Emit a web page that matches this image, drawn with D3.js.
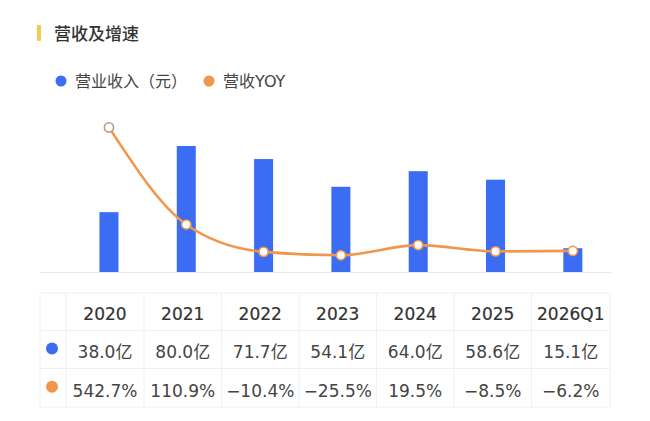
<!DOCTYPE html>
<html><head><meta charset="utf-8">
<script src="https://cdn.jsdelivr.net/npm/d3@7/dist/d3.min.js"></script>
<style>
html,body{margin:0;padding:0;background:#fff;}
svg{display:block;font-family:"DejaVu Sans","Noto Sans CJK SC",sans-serif;}
</style></head>
<body><svg id="c" width="650" height="421"></svg>
<script>
const categories = ["2020","2021","2022","2023","2024","2025","2026Q1"];
const revenue = [38.0, 80.0, 71.7, 54.1, 64.0, 58.6, 15.1];
const yoy = [542.7, 110.9, -10.4, -25.5, 19.5, -8.5, -6.2];
const revenueLabels = ["38.0亿","80.0亿","71.7亿","54.1亿","64.0亿","58.6亿","15.1亿"];
const yoyLabels = ["542.7%","110.9%","−10.4%","−25.5%","19.5%","−8.5%","−6.2%"];
const title = "营收及增速";
const legendNames = ["营业收入（元）","营收YOY"];

const BLUE = "#3a6cf4", ORANGE = "#f1964a";
const svg = d3.select("#c");

// title
svg.append("rect").attr("x",37).attr("y",25).attr("width",4).attr("height",16).attr("rx",1).attr("fill","#f3c94e");
svg.append("text").attr("x",54).attr("y",40).attr("font-family","Noto Sans CJK SC").attr("font-size",17).attr("font-weight",500).attr("fill","#333").text(title);

// legend
const legX = [61, 209];
legendNames.forEach((n,i)=>{
  svg.append("circle").attr("cx",legX[i]).attr("cy",81).attr("r",5.5).attr("fill",i?ORANGE:BLUE);
  svg.append("text").attr("x",legX[i]+14).attr("y",87).attr("font-size",16).attr("fill","#444").text(n);
});

// scales
const x = d3.scaleBand().domain(categories).range([70.3, 611.5]).paddingInner(0.754).paddingOuter(0.377);
const yBar = d3.scaleLinear().domain([0,100]).range([272, 114.5]);
const yLine = d3.scaleLinear().domain([-100,600]).range([272, 114.5]);
const cx = d => x(d) + x.bandwidth()/2;

// baseline
svg.append("line").attr("x1",40).attr("x2",612).attr("y1",272.5).attr("y2",272.5).attr("stroke","#e6e8ee").attr("stroke-width",1);

// bars
svg.append("g").selectAll("rect").data(categories).join("rect")
  .attr("x", d=>x(d)).attr("width", x.bandwidth())
  .attr("y", (d,i)=>yBar(revenue[i])).attr("height",(d,i)=>yBar(0)-yBar(revenue[i]))
  .attr("fill", BLUE);

// line
const line = d3.line().x((d,i)=>cx(categories[i])).y(d=>yLine(d)).curve(d3.curveMonotoneX);
svg.append("path").datum(yoy).attr("d",line).attr("fill","none").attr("stroke",ORANGE).attr("stroke-width",2.6);
svg.append("g").selectAll("circle").data(yoy).join("circle")
  .attr("cx",(d,i)=>cx(categories[i])).attr("cy",d=>yLine(d)).attr("r",4.6)
  .attr("fill","#fff").attr("stroke",(d,i)=>i===0?"#b59a80":ORANGE).attr("stroke-width",1.6);

// table
const colEdges = [40, 66, 144, 221.5, 299, 376.5, 454, 531.5, 610];
const rowEdges = [293, 330.5, 368.5, 407];
const tg = svg.append("g");
const grid = "#eef0f3";
rowEdges.forEach(y=>tg.append("line").attr("x1",colEdges[0]).attr("x2",colEdges[colEdges.length-1]).attr("y1",y).attr("y2",y).attr("stroke",grid));
colEdges.forEach(xx=>tg.append("line").attr("x1",xx).attr("x2",xx).attr("y1",rowEdges[0]).attr("y2",rowEdges[3]).attr("stroke",grid));
const colCenter = i => (colEdges[i+1]+colEdges[i+2])/2;
const rowMid = r => (rowEdges[r]+rowEdges[r+1])/2;
categories.forEach((c,i)=>{
  tg.append("text").attr("x",colCenter(i)).attr("y",rowMid(0)+8.5).attr("text-anchor","middle").attr("font-size",17).attr("fill","#333").attr("stroke","#333").attr("stroke-width",0.2).text(c);
  tg.append("text").attr("x",colCenter(i)).attr("y",rowMid(1)+8.5).attr("text-anchor","middle").attr("font-size",17).attr("fill","#444").text(revenueLabels[i]);
  tg.append("text").attr("x",colCenter(i)).attr("y",rowMid(2)+9).attr("text-anchor","middle").attr("font-size",17).attr("fill","#444").text(yoyLabels[i]);
});
tg.append("circle").attr("cx",52).attr("cy",rowMid(1)-1).attr("r",6).attr("fill",BLUE);
tg.append("circle").attr("cx",52).attr("cy",rowMid(2)-1).attr("r",6).attr("fill",ORANGE);
</script></body></html>
